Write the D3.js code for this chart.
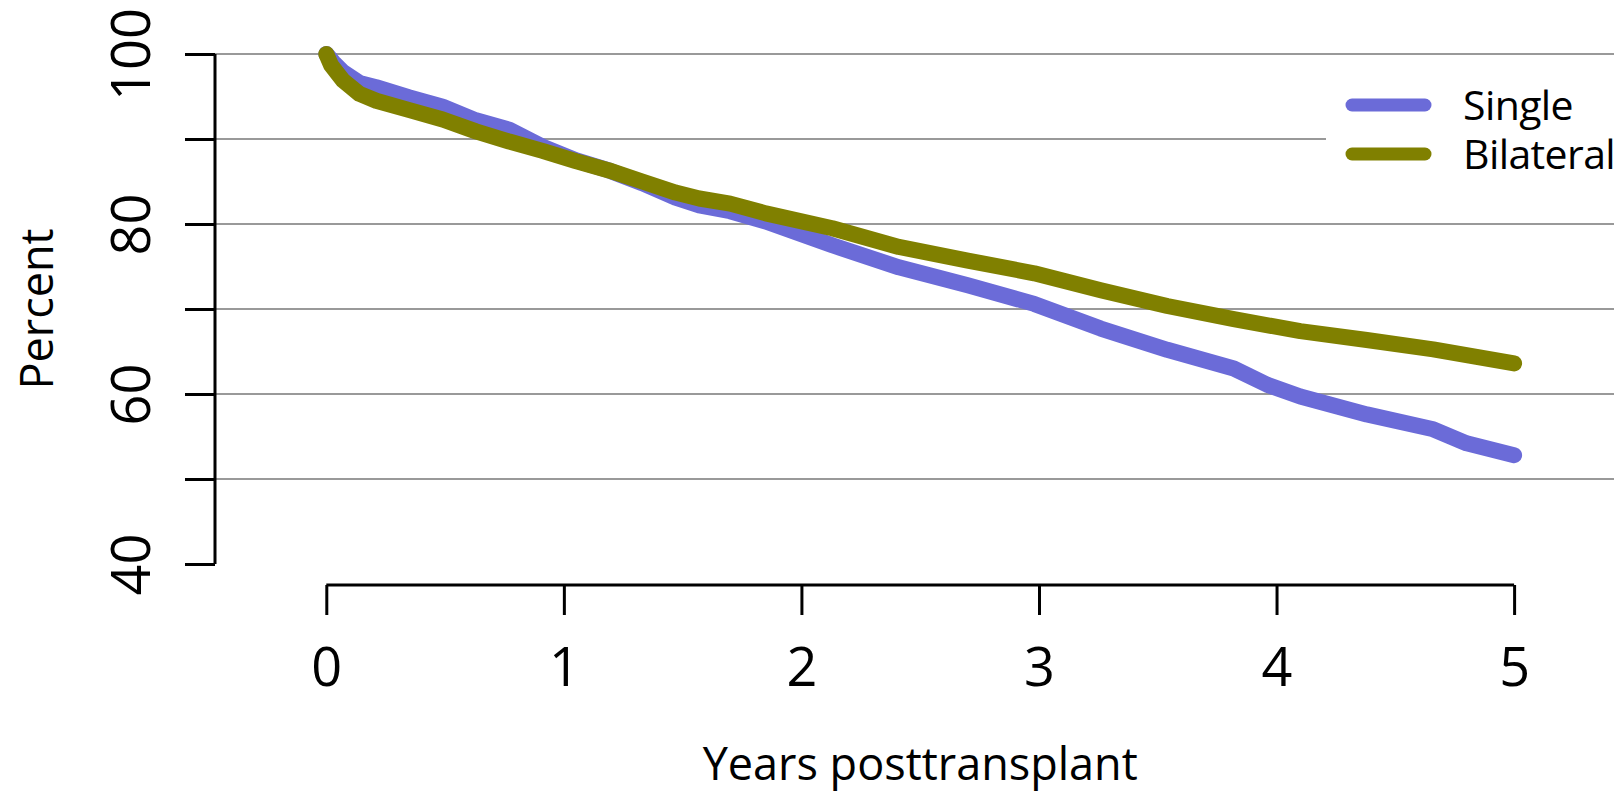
<!DOCTYPE html>
<html>
<head>
<meta charset="utf-8">
<script src="https://cdn.jsdelivr.net/npm/d3@7"></script>
<style>
  html, body { margin: 0; padding: 0; background: #fff; }
  svg { display: block; font-family: "Open Sans", "Noto Sans", sans-serif; }
</style>
</head>
<body>
<svg id="chart" width="1614" height="793"></svg>
<script>
// Survival after lung transplant, by procedure type
const singleYears = [0, 0.03, 0.07, 0.14, 0.21, 0.35, 0.49, 0.63, 0.77, 0.91, 1.05, 1.19, 1.33, 1.47, 1.57, 1.70, 1.85, 2.13, 2.41, 2.70, 2.98, 3.26, 3.54, 3.82, 3.96, 4.10, 4.38, 4.66, 4.80, 5.0];
const singlePct   = [100, 99.0, 97.9, 96.6, 96.1, 94.9, 93.8, 92.2, 91.1, 89.1, 87.5, 86.3, 84.8, 83.1, 82.2, 81.5, 80.3, 77.5, 74.9, 72.8, 70.6, 67.7, 65.2, 63.0, 61.1, 59.7, 57.6, 55.85, 54.2, 52.8];

const bilateralYears = [0, 0.02, 0.07, 0.14, 0.21, 0.35, 0.49, 0.63, 0.77, 0.91, 1.05, 1.19, 1.33, 1.47, 1.57, 1.70, 1.85, 2.13, 2.41, 2.70, 2.98, 3.26, 3.54, 3.82, 4.10, 4.38, 4.66, 5.0];
const bilateralPct   = [100, 98.7, 96.9, 95.3, 94.5, 93.4, 92.3, 90.9, 89.7, 88.6, 87.4, 86.3, 85.0, 83.7, 83.0, 82.4, 81.25, 79.5, 77.3, 75.7, 74.2, 72.2, 70.35, 68.8, 67.4, 66.35, 65.25, 63.6];

const seriesNames  = ["Single", "Bilateral"];
const seriesColors = ["#6b6bd8", "#808000"];

const xTicks = [0, 1, 2, 3, 4, 5];
const yTicks = [40, 50, 60, 70, 80, 90, 100];
const yTickLabels = [40, 60, 80, 100];
const gridValues = [50, 60, 70, 80, 90, 100];

const xTitle = "Years posttransplant";
const yTitle = "Percent";

const FONT = '"Open Sans", "Noto Sans", sans-serif';
const svg = d3.select("#chart");
const W = 1614, H = 793;

const x = d3.scaleLinear().domain([0, 5]).range([326.3, 1514.1]);
const y = d3.scaleLinear().domain([40, 100]).range([564, 54]);
const axisX = 215;   // position of the vertical axis
const axisY = 585;   // position of the horizontal axis

// horizontal reference lines
svg.append("g").selectAll("line").data(gridValues).join("line")
  .attr("x1", axisX).attr("x2", W)
  .attr("y1", d => y(d)).attr("y2", d => y(d))
  .attr("stroke", "#999").attr("stroke-width", 2);

// y axis
const gy = svg.append("g").attr("transform", `translate(${axisX},0)`)
  .call(d3.axisLeft(y).tickValues(yTicks).tickSize(30)
        .tickFormat(d => yTickLabels.includes(d) ? d : ""))
  .attr("font-family", FONT);
gy.select(".domain").attr("stroke", "#000").attr("stroke-width", 3)
  .attr("d", `M0,${y(40)}V${y(100)}`);
gy.selectAll(".tick line").attr("stroke", "#000").attr("stroke-width", 3);
gy.selectAll(".tick text")
  .attr("font-size", 54).attr("fill", "#000")
  .attr("text-anchor", "middle")
  .attr("x", 0).attr("y", 0).attr("dy", 0)
  .attr("transform", "translate(-65,0) rotate(-90)");

// x axis
const gx = svg.append("g").attr("transform", `translate(0,${axisY})`)
  .call(d3.axisBottom(x).tickValues(xTicks).tickSize(30).tickFormat(d3.format("d")))
  .attr("font-family", FONT);
gx.select(".domain").attr("stroke", "#000").attr("stroke-width", 3)
  .attr("d", `M${x(0)},0H${x(5)}`);
gx.selectAll(".tick line").attr("stroke", "#000").attr("stroke-width", 3);
gx.selectAll(".tick text")
  .attr("font-size", 54).attr("fill", "#000")
  .attr("y", 101).attr("dy", 0);

// axis titles
svg.append("text")
  .attr("x", (x(0) + x(5)) / 2).attr("y", 780)
  .attr("text-anchor", "middle").attr("font-size", 45).attr("fill", "#000")
  .text(xTitle);
svg.append("text")
  .attr("transform", `translate(53,${(y(40) + y(100)) / 2}) rotate(-90)`)
  .attr("text-anchor", "middle").attr("font-size", 45).attr("fill", "#000")
  .text(yTitle);

// survival curves
const line = d3.line().x(d => x(d[0])).y(d => y(d[1]));
const series = [
  d3.zip(singleYears, singlePct),
  d3.zip(bilateralYears, bilateralPct)
];
svg.append("g").selectAll("path").data(series).join("path")
  .attr("d", line)
  .attr("fill", "none")
  .attr("stroke", (d, i) => seriesColors[i])
  .attr("stroke-width", 16)
  .attr("stroke-linecap", "round")
  .attr("stroke-linejoin", "round");

// legend
const lg = svg.append("g");
lg.append("rect").attr("x", 1326).attr("y", 70).attr("width", W - 1326).attr("height", 120)
  .attr("fill", "#fff");
const rows = lg.selectAll("g.row").data(seriesNames).join("g")
  .attr("class", "row")
  .attr("transform", (d, i) => `translate(0,${105 + i * 49})`);
rows.append("line")
  .attr("x1", 1352).attr("x2", 1425).attr("y1", 0).attr("y2", 0)
  .attr("stroke", (d, i) => seriesColors[i])
  .attr("stroke-width", 13).attr("stroke-linecap", "round");
rows.append("text")
  .attr("x", 1463).attr("y", 15)
  .attr("font-size", 41).attr("letter-spacing", -0.6).attr("fill", "#000")
  .text(d => d);
</script>
</body>
</html>
